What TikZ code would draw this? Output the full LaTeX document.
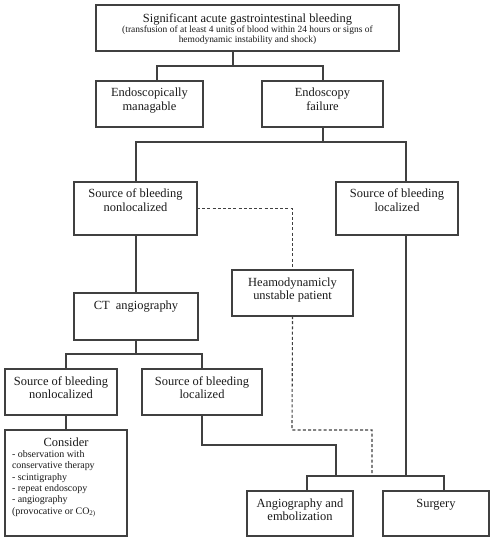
\documentclass[tikz,border=0pt]{standalone}
\usepackage{fontspec}
\setmainfont{Liberation Serif}
\newcommand\bxt[3]{\parbox[c][#2][t]{#1}{\centering\fontsize{12.5}{14}\selectfont\rule{0pt}{16bp}#3\par}}
\tikzset{
  bx/.style={draw=black!75, line width=1.1bp, inner sep=0pt, outer sep=0pt, anchor=north west, text=black!90},
  cn/.style={draw=black!75, line width=1.1bp},
  dcn/.style={draw=black!75, line width=1.1bp, dash pattern=on 3bp off 2.2bp}
}
\begin{document}
\begin{tikzpicture}[x=1bp,y=-1bp]
\useasboundingbox (0,0) rectangle (496,542);
% boxes
\node[bx] (top) at (96,5) {\parbox[c][46bp][t]{303bp}{\centering\fontsize{12.5}{14}\selectfont\rule{0pt}{18bp}Significant acute gastrointestinal bleeding\par
  \fontsize{9.5}{9.8}\selectfont (transfusion of at least 4 units of blood within 24 hours or signs of\\ hemodynamic instability and shock)\par}};
\node[bx] (endo1) at (96,81) {\bxt{107bp}{46bp}{Endoscopically\\ managable}};
\node[bx] (endo2) at (262,81) {\bxt{121bp}{46bp}{Endoscopy\\ failure}};
\node[bx] (src1) at (74,182) {\bxt{123bp}{53bp}{Source of bleeding\\ nonlocalized}};
\node[bx] (src2) at (336,182) {\bxt{122bp}{53bp}{Source of bleeding\\ localized}};
\node[bx] (heam) at (232,270) {\bxt{121bp}{46bp}{Heamodynamicly\\ unstable patient}};
\node[bx] (ct) at (74,293) {\bxt{124bp}{47bp}{CT\ \ angiography}};
\node[bx] (src3) at (5,369) {\bxt{112bp}{46bp}{Source of bleeding\\ nonlocalized}};
\node[bx] (src4) at (142,369) {\bxt{120bp}{46bp}{Source of bleeding\\ localized}};
\node[bx] (cons) at (5,430) {\parbox[c][106bp][t]{122bp}{\centering\fontsize{12.5}{14}\selectfont\rule{0pt}{16bp}Consider\par
  \raggedright\leftskip=7bp\fontsize{10}{11.4}\selectfont - observation with\\ conservative therapy\\ - scintigraphy\\ - repeat endoscopy\\ - angiography\\ (provocative or CO\textsubscript{2)}\par}};
\node[bx] (angio) at (247,491) {\bxt{106bp}{45bp}{Angiography and\\ embolization}};
\node[bx] (surg) at (383,491) {\bxt{106bp}{45bp}{Surgery}};
% junction coordinates
\coordinate (t0) at (233,66);
\coordinate (t1) at (157,66);
\coordinate (t2) at (323,66);
\coordinate (s0) at (323,142);
\coordinate (s1) at (136,142);
\coordinate (s2) at (406,142);
\coordinate (c0) at (136,354);
\coordinate (c1) at (66,354);
\coordinate (c2) at (202,354);
\coordinate (l1) at (202,445);
\coordinate (l2) at (336,445);
\coordinate (j1) at (307,476);
\coordinate (j2) at (444,476);
\coordinate (jd) at (372,476);
\coordinate (d1) at (292,430);
\coordinate (d2) at (372,430);
% connectors
\draw[cn] (top.south -| t0) -- (t0);
\draw[cn] (t1 |- endo1.north) -- (t1) -- (t2) -- (t2 |- endo2.north);
\draw[cn] (endo2.south -| s0) -- (s0);
\draw[cn] (s1 |- src1.north) -- (s1) -- (s2) -- (s2 |- src2.north);
\draw[cn] (src1.south -| s1) -- (ct.north -| s1);
\draw[cn] (ct.south -| c0) -- (c0);
\draw[cn] (c1 |- src3.north) -- (c1) -- (c2) -- (c2 |- src4.north);
\draw[cn] (src3.south -| c1) -- (cons.north -| c1);
\draw[cn] (src4.south -| l1) -- (l1) -- (l2) -- (l2 |- j1);
\draw[cn] (src2.south -| s2) -- (s2 |- j2);
\draw[cn] (j1 |- angio.north) -- (j1) -- (j2) -- (j2 |- surg.north);
\draw[dcn] (src1.east) -| (heam.north);
\draw[dcn] (heam.south) -- (d1) -- (d2) -- (jd);
\end{tikzpicture}
\end{document}
